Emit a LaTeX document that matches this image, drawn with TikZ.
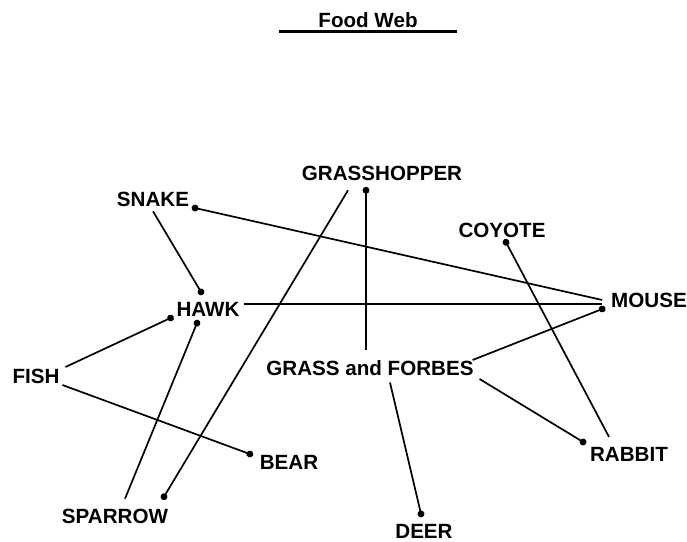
\documentclass[tikz,border=0pt]{standalone}
\usepackage{fontspec}
\setmainfont{Liberation Sans}
\usepackage{tikz}
\usetikzlibrary{arrows.meta}
\tikzstyle{animal}=[font=\fontsize{10.3}{12}\selectfont\bfseries, inner sep=0pt, outer sep=0pt]
\tikzstyle{link}=[draw=black, line width=0.85pt]
\tikzstyle{food}=[link, -{Circle[length=3.4pt]}, shorten >=-1.7pt]

\begin{document}
\begin{tikzpicture}[x=0.5pt, y=-0.5pt]
	\useasboundingbox (0,0) rectangle (687,542);
	% title
	\node[animal] (title) at (368,20) {Food Web};
	\draw[line width=1.1pt] ([shift={(-89,4)}]title.south) -- ([shift={(89,4)}]title.south);
	% species
	\node[animal] (grasshopper) at (382,173) {GRASSHOPPER};
	\node[animal] (snake) at (153,199) {SNAKE};
	\node[animal] (coyote) at (502,230) {COYOTE};
	\node[animal] (hawk) at (208,309) {HAWK};
	\node[animal] (mouse) at (649,300) {MOUSE};
	\node[animal] (fish) at (36,376) {FISH};
	\node[animal] (grass) at (370,368) {GRASS and FORBES};
	\node[animal] (bear) at (289,462) {BEAR};
	\node[animal] (rabbit) at (629,454) {RABBIT};
	\node[animal] (sparrow) at (115,516) {SPARROW};
	\node[animal] (deer) at (424,531) {DEER};
	% who eats whom (dot at the eater)
	\draw[food] ([shift={(0,5)}]snake.south) -- ([shift={(-7,-10)}]hawk.north);
	\draw[food] ([shift={(-9,0)}]mouse.west) -- ([shift={(6,9)}]snake.east);
	\draw[link] ([shift={(5,-5)}]hawk.east) -- ([shift={(-9,4)}]mouse.west);
	\draw[food] ([shift={(-1,-8)}]grass.east) -- ([shift={(-9,9)}]mouse.west);
	\draw[food] ([shift={(-20,-10)}]rabbit.north) -- ([shift={(4,5)}]coyote.south);
	\draw[food] ([shift={(6,11)}]grass.east) -- ([shift={(-7,-12)}]rabbit.west);
	\draw[food] ([shift={(20,7)}]grass.south) -- ([shift={(-3,-10)}]deer.north);
	\draw[food] ([shift={(-4,-10)}]grass.north) -- ([shift={(-16,10)}]grasshopper.south);
	\draw[food] ([shift={(-34,10)}]grasshopper.south) -- ([shift={(49,-12)}]sparrow.north);
	\draw[food] ([shift={(10,-10)}]sparrow.north) -- ([shift={(-11,7)}]hawk.south);
	\draw[food] ([shift={(6,-9)}]fish.east) -- ([shift={(-6,9)}]hawk.west);
	\draw[food] ([shift={(3,9)}]fish.east) -- ([shift={(-10,-8)}]bear.west);
\end{tikzpicture}
\end{document}
